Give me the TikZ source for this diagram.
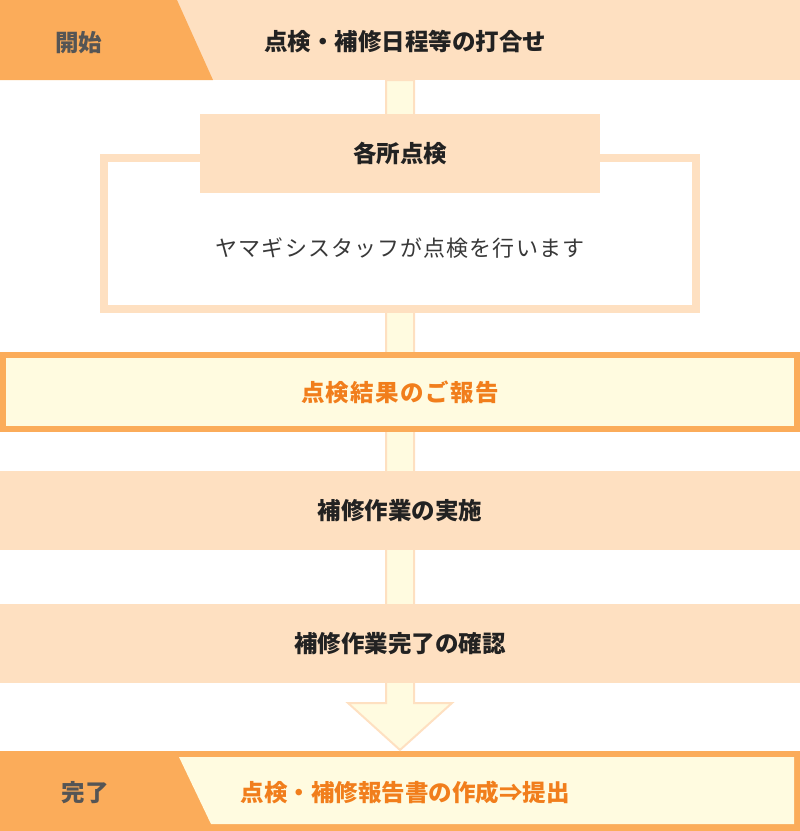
\documentclass[tikz,border=0pt]{standalone}
\usepackage{fontspec}
\setmainfont{Noto Sans CJK JP}
\usetikzlibrary{positioning,calc}

\definecolor{peach}{HTML}{FEE0C1}
\definecolor{tagorange}{HTML}{FBAC5A}
\definecolor{cream}{HTML}{FFFBE0}
\definecolor{textorange}{HTML}{F17E1C}
\definecolor{textdark}{HTML}{222222}
\definecolor{textgray}{HTML}{555555}

\tikzset{
  band/.style={fill=peach, minimum width=800pt, minimum height=79pt, inner sep=0pt, outer sep=0pt},
  report/.style={fill=cream, draw=tagorange, line width=6pt, minimum width=794pt, minimum height=74pt, inner sep=0pt, text=textorange},
  frame/.style={fill=white, draw=peach, line width=8pt, minimum width=592pt, minimum height=151pt, inner sep=0pt},
  flow/.style={fill=cream, draw=peach, line width=2pt, line join=miter}
}

\begin{document}
\begin{tikzpicture}[x=1pt, y=-1pt, font=\bfseries\fontsize{23.5}{28}\selectfont, text=textdark]
    \useasboundingbox (0,0) rectangle (800,831);

    % start band
    \node [band, minimum height=80pt] (plan) at (400,40) {};
    \fill [tagorange] (0,0) -- (177,0) -- (213,80) -- (0,80) -- cycle;
    \node [text=textgray] (start) at (79,43) {開始};
    \node (plantext) at (405,42) {点検・補修日程等の打合せ};

    % end band
    \node [band, fill=tagorange, minimum height=80pt] (done) at (400,791) {};
    \fill [cream] (179,757) -- (794,757) -- (794,824) -- (211,824) -- cycle;
    \node [text=textgray] (finish) at (85,793) {完了};
    \node [text=textorange] (submit) at (405,793) {点検・補修報告書の作成⇒提出};

    % flow bar with arrow head
    \draw [flow] ($(plan.south)+(-14,0)$) -- ($(plan.south)+(14,0)$)
        -- ($(done.north)+(14,-48)$) -- ($(done.north)+(52,-48)$) -- ($(done.north)+(0,-1)$)
        -- ($(done.north)+(-52,-48)$) -- ($(done.north)+(-14,-48)$) -- cycle;

    % steps
    \node [frame] (inspect) at (400,233.5) {};
    \node [band, minimum width=400pt] (head) at (400,153.5) {各所点検};
    \node [font=\fontsize{22}{26}\selectfont\addfontfeature{LetterSpace=5}, text=textdark!90] (staff) at (400,248) {ヤマギシスタッフが点検を行います};
    \node [report] (result) at (400,392) {\addfontfeature{LetterSpace=6}点検結果のご報告};
    \node [band] (repair) at (400,510.5) {補修作業の実施};
    \node [band] (confirm) at (400,643.5) {補修作業完了の確認};
\end{tikzpicture}
\end{document}
